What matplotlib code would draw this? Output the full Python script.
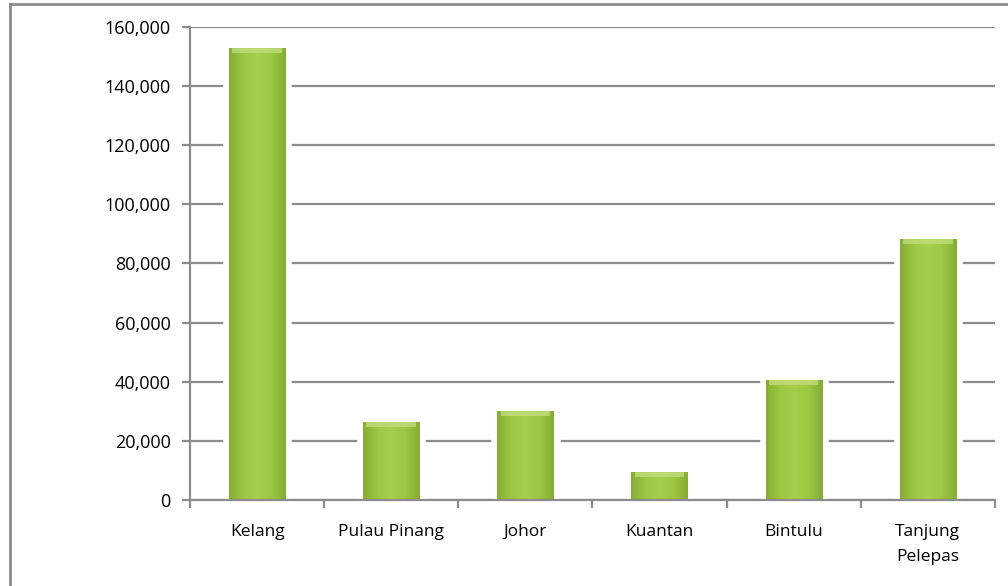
import numpy as np
import matplotlib
matplotlib.use('Agg')
import matplotlib.pyplot as plt
from matplotlib.lines import Line2D
from matplotlib.ticker import FuncFormatter
from matplotlib.colors import LinearSegmentedColormap

plt.rcParams['font.family'] = ['Open Sans', 'DejaVu Sans']

#%% data
ports = ['Kelang', 'Pulau Pinang', 'Johor', 'Kuantan', 'Bintulu', 'Tanjung\nPelepas']
values = [153000, 26400, 30100, 9500, 40600, 88300]
yticks = [0, 20000, 40000, 60000, 80000, 100000, 120000, 140000, 160000]

grey = '#8c8c8c'
fig = plt.figure(figsize=(10.08, 5.86), dpi=100)
ax = fig.add_axes([0.1885, 0.1468, 0.7985, 0.8072])

x = np.arange(len(ports))
w = 0.42

# white halo so gridlines stop short of the bars
ax.bar(x, values, width=w, color='white', edgecolor='white', linewidth=9, zorder=2)
bars = ax.bar(x, values, width=w, color='#9cc843', linewidth=0, zorder=3)

# horizontal shading across each bar, clipped to the bar
cmap = LinearSegmentedColormap.from_list('g', ['#86ad35', '#9cc843', '#a5cf4b', '#9cc843', '#86ad35'])
grad = np.linspace(0, 1, 64).reshape(1, -1)
for b in bars:
    x0, y0 = b.get_x(), b.get_y()
    im = ax.imshow(grad, cmap=cmap, aspect='auto', zorder=4,
                   extent=[x0, x0 + b.get_width(), y0, y0 + b.get_height()])
    im.set_clip_path(b)
    # soft bevel on top
    ax.bar(b.get_x() + b.get_width() / 2, 1800, bottom=b.get_height() - 1800,
           width=b.get_width() * 0.88, color='#c6e184', alpha=0.7, linewidth=0, zorder=5)
ax.set_xlim(-0.5, len(ports) - 0.5)
ax.set_ylim(0, 160000)

ax.set_yticks(yticks)
ax.yaxis.set_major_formatter(FuncFormatter(lambda v, p: f'{int(v):,}'))
ax.grid(axis='y', color=grey, linewidth=1.6, zorder=1)
ax.set_axisbelow(True)

ax.set_xticks(x)
ax.set_xticklabels(ports, linespacing=1.75)
ax.set_xticks(np.arange(-0.5, len(ports)), minor=True)
ax.tick_params(axis='x', which='major', length=0, pad=17, labelsize=12.5)
ax.tick_params(axis='x', which='minor', length=6, width=1.6, color=grey, direction='out')
ax.tick_params(axis='y', length=6, width=1.6, color=grey, pad=8, labelsize=13)

for s in ['top', 'right']:
    ax.spines[s].set_visible(False)
for s in ['left', 'bottom']:
    ax.spines[s].set_color(grey)
    ax.spines[s].set_linewidth(1.6)
    ax.spines[s].set_zorder(6)

# outer chart frame
fig.add_artist(Line2D([10 / 1008, 1], [1 - 4 / 586, 1 - 4 / 586], color=grey, linewidth=2, transform=fig.transFigure))
fig.add_artist(Line2D([10 / 1008, 10 / 1008], [0, 1 - 4 / 586], color=grey, linewidth=2, transform=fig.transFigure))

fig.savefig('out.png', dpi=100)
